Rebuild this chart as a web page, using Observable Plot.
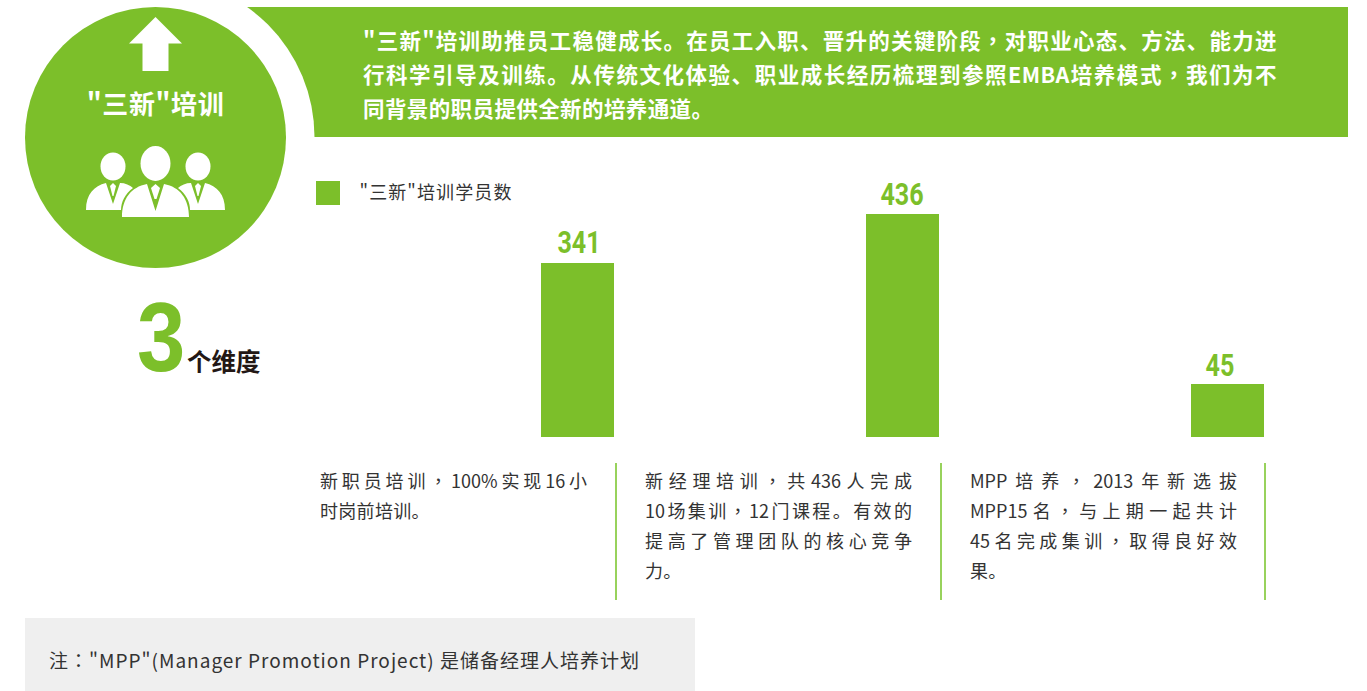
<!DOCTYPE html>
<html lang="zh">
<head>
<meta charset="utf-8">
<script src="https://cdn.jsdelivr.net/npm/d3@7"></script>
<script src="https://cdn.jsdelivr.net/npm/@observablehq/plot@0.6"></script>
<style>
html,body{margin:0;padding:0;background:#fff;overflow:hidden}
body{font-family:"Noto Sans CJK SC","Noto Sans",sans-serif}
#page{position:relative;width:1367px;height:691px;overflow:hidden}
#page>*{position:absolute}
#deco{left:0;top:0}
.banner-line{left:363px;width:914px;height:34px;line-height:34px;color:#fff;font-weight:700;font-size:21.5px;white-space:nowrap;letter-spacing:.4px}
.just{text-align:justify;text-align-last:justify;white-space:normal}
.col{width:267px;top:465px;font-size:18px;line-height:30px;color:#333}
.col div{height:30px;white-space:nowrap;letter-spacing:.3px}
.col div.just{white-space:normal;letter-spacing:0}
.sep{width:0;top:463px;height:137px;border-left:2px solid #98d25c}
.mid{font-family:"Noto Sans CJK TC",sans-serif}
#chart{left:0;top:0}
</style>
</head>
<body>
<div id="page"></div>
<script>
const GREEN = "#7cbf2a";
const categories = ["新职员培训", "新经理培训", "MPP培养"];
const trainees = [341, 436, 45];
const legendLabel = '"三新"培训学员数';
const circleTitle = '"三新"培训';
const bigNumber = "3";
const bigNumberUnit = "个维度";
const bannerLines = [
  '"三新"培训助推员工稳健成长。在员工入职、晋升的关键阶段，对职业心态、方法、能力进',
  '行科学引导及训练。从传统文化体验、职业成长经历梳理到参照EMBA培养模式，我们为不',
  '同背景的职员提供全新的培养通道。'
];
const descriptions = [
  ["新职员培训，100%实现16小", "时岗前培训。"],
  ["新经理培训，共436人完成", "10场集训，12门课程。有效的", "提高了管理团队的核心竞争", "力。"],
  ["MPP培养，2013年新选拔", "MPP15名，与上期一起共计", "45名完成集训，取得良好效", "果。"]
];
const note = '注："MPP"(Manager Promotion Project) 是储备经理人培养计划';

const page = document.getElementById("page");
function add(tag, css, text, cls) {
  const e = document.createElement(tag);
  e.style.cssText = css;
  if (text !== undefined) e.textContent = text;
  if (cls) e.className = cls;
  page.appendChild(e);
  return e;
}
// Full-width commas and colons sit mid-cell in the reference: take them from the TC face
function fillCentred(el, text) {
  text.split(/([，：])/).forEach(part => {
    if (part === "，" || part === "：") {
      const s = document.createElement("span");
      s.className = "mid";
      s.lang = "zh-TW";
      s.textContent = part;
      el.appendChild(s);
    } else if (part) {
      el.appendChild(document.createTextNode(part));
    }
  });
}

// Decoration: banner with a circular cut-out, the disc, arrow and people icon
const deco = document.createElement("div");
deco.id = "deco";
deco.innerHTML = `<svg width="1367" height="691" style="display:block">
  <rect x="240" y="7" width="1108" height="130" fill="${GREEN}"/>
  <rect x="0" y="137" width="400" height="140" fill="#fff"/>
  <circle cx="155.5" cy="137" r="159" fill="#fff"/>
  <circle cx="155.5" cy="137.5" r="130.5" fill="${GREEN}"/>
  <path d="M155.5 17L182 43.5H168.5V71H142.5V43.5H129Z" fill="#fff"/>
  <g fill="#fff">
    <ellipse cx="113" cy="166.5" rx="12.5" ry="14"/>
    <ellipse cx="198" cy="166.5" rx="12.5" ry="14"/>
    <path d="M86 210C86 194 94 186 106 183L113 204L120 183C125 183 130 185 133 188C125 194 121 202 121 210Z"/>
    <path d="M225 210C225 194 217 186 205 183L198 204L191 183C186 183 181 185 178 188C186 194 190 202 190 210Z"/>
    <path d="M110 186L113 183L116 186L113.500 196H112.500Z"/>
    <path d="M195 186L198 183L201 186L198.500 196H197.500Z"/>
    <ellipse cx="155.5" cy="163.5" rx="15" ry="17.5"/>
    <path d="M122 217C122 199 131 187 147 184L155.5 211L164 184C180 187 189 199 189 217Z"/>
    <path d="M151 188L155.500 184L160 188L156.500 199H154.500Z"/>
  </g>
</svg>`;
page.appendChild(deco);

bannerLines.forEach((t, i) => {
  const e = add("div", `top:${23 + i * 34}px`, undefined, "banner-line" + (i < 2 ? " just" : ""));
  fillCentred(e, t);
});

add("div", `left:55px;width:201px;top:84px;text-align:center;color:#fff;font-weight:700;font-size:26px;letter-spacing:.6px;line-height:38px;white-space:nowrap`, circleTitle);
add("div", `left:137px;top:281px;color:${GREEN};font-family:'Liberation Sans',sans-serif;font-weight:700;font-size:98px;line-height:112px;transform:scaleX(.885);transform-origin:0 0`, bigNumber);
add("div", `left:187px;top:343px;color:#231815;font-weight:700;font-size:24.5px;line-height:36px;white-space:nowrap`, bigNumberUnit);

// Legend
add("div", `left:316px;top:181px;width:24px;height:24px;background:${GREEN}`);
add("div", `left:359.500px;top:177px;font-size:18px;letter-spacing:1.1px;line-height:28px;color:#333;white-space:nowrap`, legendLabel);

// Chart
const data = categories.map((c, i) => ({category: c, value: trainees[i]}));
const labelDx = [1, -1, -8];
const labelDy = [-11, -9.5, -9];
const chart = Plot.plot({
  width: 1367,
  height: 691,
  margin: 0,
  style: {background: "transparent", overflow: "visible"},
  x: {type: "band", domain: categories, range: [541, 1264], paddingInner: 0.7754, paddingOuter: 0, round: false, axis: null},
  y: {type: "linear", domain: [0, 45, 341, 436], range: [437, 384, 263, 214], axis: null},
  marks: [
    Plot.barY(data, {x: "category", y: "value", fill: GREEN}),
    ...data.map((d, i) => Plot.text([d], {
      x: "category", y: "value", text: r => String(r.value),
      lineAnchor: "bottom", dx: labelDx[i], dy: labelDy[i], fill: GREEN,
      fontFamily: "Roboto,sans-serif",
      fontWeight: 700, fontSize: 31
    }))
  ]
});
chart.id = "chart";
// The reference's value labels use a condensed face: squeeze the same font to that width
chart.querySelectorAll("text").forEach(t => {
  t.setAttribute("textLength", 14.4 * t.textContent.length);
  t.setAttribute("lengthAdjust", "spacingAndGlyphs");
});
page.appendChild(chart);

// Description columns and separators
const colLefts = [320, 645, 970];
const sepLefts = [615, 940, 1264];
descriptions.forEach((lines, i) => {
  const col = add("div", `left:${colLefts[i]}px`, undefined, "col");
  lines.forEach((t, j) => {
    const d = document.createElement("div");
    fillCentred(d, t);
    if (j < lines.length - 1) d.className = "just";
    col.appendChild(d);
  });
  add("div", `left:${sepLefts[i]}px`, undefined, "sep");
});

// Note
add("div", `left:25px;top:618px;width:670px;height:73px;background:#efefef`);
const noteEl = add("div", `left:49px;top:645px;font-size:19px;letter-spacing:1px;line-height:30px;color:#333;white-space:nowrap`);
fillCentred(noteEl, note);
</script>
</body>
</html>
